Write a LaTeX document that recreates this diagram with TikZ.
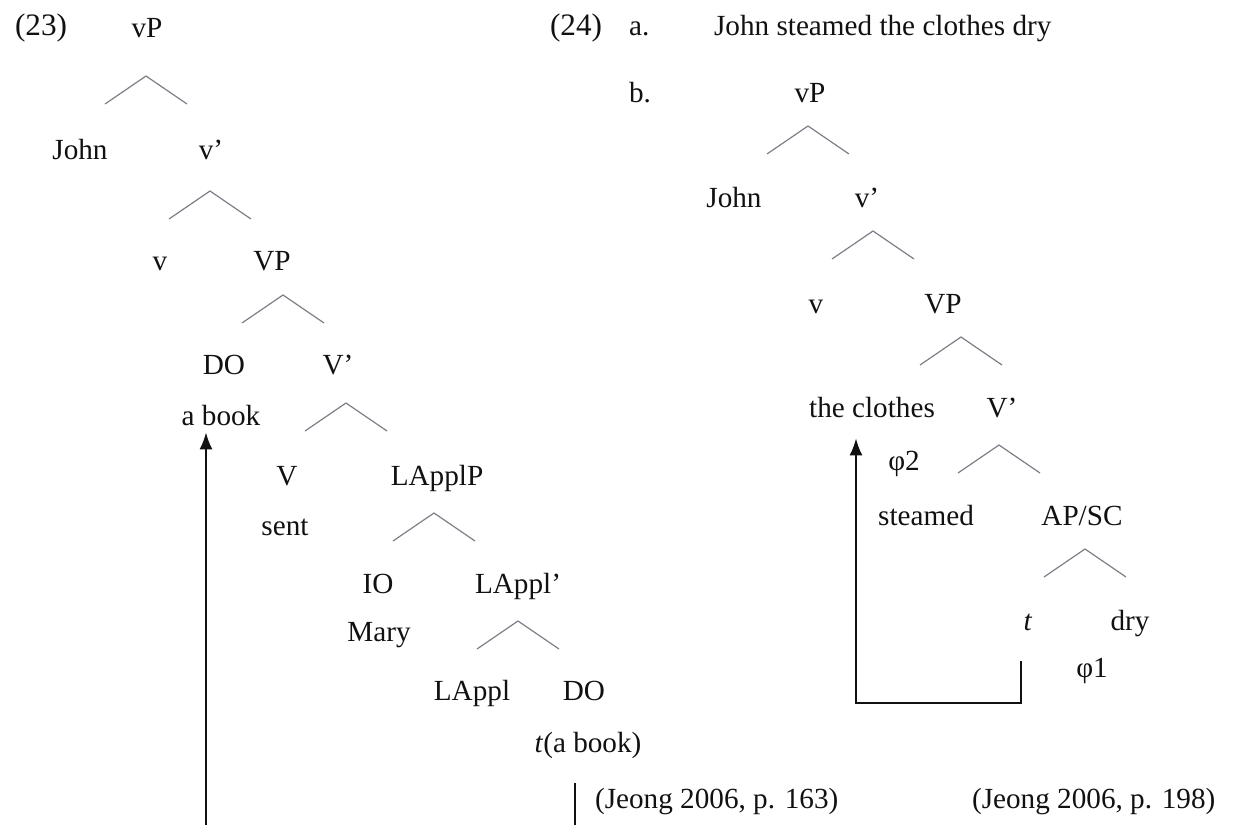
\documentclass[tikz,border=0pt]{standalone}
\usepackage{fontspec}
\setmainfont{Liberation Serif}
\usepackage{xcolor}
\usepackage{tikz}
\usetikzlibrary{positioning, arrows.meta}
\definecolor{ink}{HTML}{111111}
\definecolor{branchgray}{HTML}{7A7F88}

\begin{document}
\begin{tikzpicture}[
  x=0.5pt, y=-0.5pt,
  every node/.style={font=\fontsize{14.6}{17}\selectfont, text=ink, anchor=base},
  lbl/.style={anchor=base west},
  exnum/.style={lbl, font=\fontsize{15.6}{18}\selectfont},
  branch/.style={draw=branchgray, line width=0.6pt},
  move/.style={-{Latex[length=8.5pt, width=6.5pt]}, draw=ink, line width=1pt},
  fork/.pic={\draw[branch] (-41,28) -- (0,0) -- (41,28);},
]
\useasboundingbox (0,0) rectangle (1260,825);

% (23) sent-type tree
\node[exnum] (exA)    at (8,35)    {(23)};
\node       (vPa)     at (147,37)  {vP};
\node       (johna)   at (80,159)  {John};
\node       (vbara)   at (211,159) {v’};
\node       (va)      at (160,270) {v};
\node       (VPa)     at (272,270) {VP};
\node       (DOa)     at (224,374) {DO};
\node       (Vbara)   at (338,374) {V’};
\node       (abook)   at (221,425) {a book};
\node       (Va)      at (287,485) {V};
\node       (lapplP)  at (437,485) {LApplP};
\node       (sent)    at (285,535) {sent};
\node       (IO)      at (378,593) {IO};
\node       (lapplbar) at (518,593) {LAppl’};
\node       (mary)    at (379,641) {Mary};
\node       (lappl)   at (472,700) {LAppl};
\node       (DOlow)   at (584,700) {DO};
\node       (trace)   at (588,752) {\textit{t}(a book)};
\pic at (146,76)  {fork};
\pic at (210,191) {fork};
\pic at (283,295) {fork};
\pic at (346,403) {fork};
\pic at (434,513) {fork};
\pic at (518,621) {fork};

% movement of the direct object
\coordinate (footA) at (206,825);
\draw[move] (footA) -- (footA |- abook.south);

% (24) resultative tree
\node[exnum] (exB)    at (543,35)  {(24)};
\node[lbl]  (itemA)   at (622,35)  {a.};
\node[lbl]  (sentence) at (707,35) {John steamed the clothes dry};
\node[lbl]  (itemB)   at (622,102) {b.};
\node       (vPb)     at (810,102) {vP};
\node       (johnb)   at (734,207) {John};
\node       (vbarb)   at (867,207) {v’};
\node       (vb)      at (816,313) {v};
\node       (VPb)     at (943,313) {VP};
\node       (clothes) at (872,417) {the clothes};
\node       (Vbarb)   at (1002,417) {V’};
\node       (phitwo)  at (904,470) {φ2};
\node       (steamed) at (926,525) {steamed};
\node       (apsc)    at (1082,525) {AP/SC};
\node       (tb)      at (1028,630) {\textit{t}};
\node       (dry)     at (1130,630) {dry};
\node       (phione)  at (1092,677) {φ1};
\pic at (808,126)  {fork};
\pic at (873,231)  {fork};
\pic at (961,337)  {fork};
\pic at (999,445)  {fork};
\pic at (1085,549) {fork};

% trace back up to the raised object
\coordinate (footB) at (1021,662);
\coordinate (turnB) at (856,703);
\draw[move, line cap=rect] (footB) |- (turnB) -- ([yshift=-7pt]turnB |- clothes.south);

% sources
\draw[ink, line width=0.8pt] (575,783) -- (575,825);
\node[lbl]  (citeA)   at (588,808) {(Jeong 2006, p. 163)};
\node[lbl]  (citeB)   at (965,808) {(Jeong 2006, p. 198)};
\end{tikzpicture}
\end{document}
